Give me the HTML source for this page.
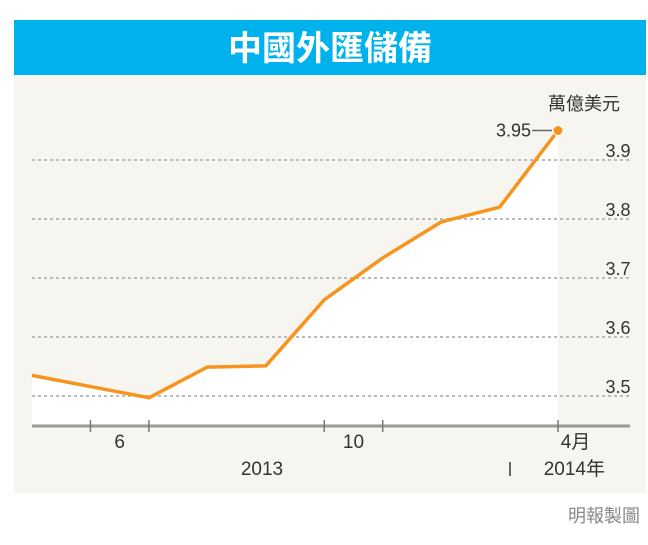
<!DOCTYPE html>
<html><head><meta charset="utf-8"><style>
body{margin:0;background:#fff;width:648px;height:540px;overflow:hidden;font-family:"Liberation Sans","Noto Sans CJK TC",sans-serif}
</style></head><body>
<svg width="648" height="540" xmlns="http://www.w3.org/2000/svg">
<rect x="14" y="20" width="632" height="55" fill="#00b2ec"/>
<text x="330" y="60" text-anchor="middle" font-size="34" font-weight="bold" fill="#fff" font-family="Noto Sans CJK TC, sans-serif">中國外匯儲備</text>
<rect x="14" y="75" width="632" height="418" fill="#f7f5f0"/>
<g id="plot"></g>
<text x="620" y="110" text-anchor="end" font-size="18" fill="#333" font-family="Noto Sans CJK TC, sans-serif">萬億美元</text>
<text x="262" y="475" text-anchor="middle" font-size="19" fill="#333">2013</text>
<text x="605" y="475" text-anchor="end" font-size="19" fill="#333">2014年</text>
<line x1="510" y1="462" x2="510" y2="476" stroke="#666" stroke-width="2"/>
<text x="640" y="522" text-anchor="end" font-size="18" fill="#888" font-family="Noto Sans CJK TC, sans-serif">明報製圖</text>
</svg>
<script>
const months=[0,2,3,4,5,6,7,8,9];
const values=[3.535,3.497,3.549,3.551,3.663,3.734,3.795,3.82,3.95];
const yTicks=[3.5,3.6,3.7,3.8,3.9];
const xTickMonths=[1,2,5,6,9];
const xLabels=["6","10","4月"];
const xLabelPos=[1.5,5.5,9.3];
const X=m=>32+m*58.45;
const Y=v=>160+(3.9-v)*590;
const NS="http://www.w3.org/2000/svg";
const g=document.getElementById('plot');
function mk(t,a){const e=document.createElementNS(NS,t);for(const k in a)e.setAttribute(k,a[k]);g.appendChild(e);return e;}
const axisY=426;
let pts=months.map((m,i)=>X(m)+','+Y(values[i])).join(' ');
let fill=mk('polygon',{points:X(months[0])+','+axisY+' '+pts+' '+X(months[months.length-1])+','+axisY,fill:'#fff'});


yTicks.forEach(v=>{
 const l=mk('line',{x1:32,x2:630,y1:Y(v),y2:Y(v),stroke:'#bbb','stroke-width':2,'stroke-dasharray':'3,3'});
 
 
 const t=mk('text',{x:618,y:Y(v)-3,'text-anchor':'middle','font-size':18,fill:'#333'});
 t.textContent=v.toFixed(1);
 
 
});
const ax=mk('line',{x1:32,x2:630,y1:axisY,y2:axisY,stroke:'#999','stroke-width':3});


xTickMonths.forEach(m=>{
 const l=mk('line',{x1:X(m),x2:X(m),y1:axisY-6,y2:axisY+6,stroke:'#777','stroke-width':1.5});
 
 
});
xLabels.forEach((s,i)=>{
 const t=mk('text',{x:X(xLabelPos[i]),y:448,'text-anchor':'middle','font-size':19,fill:'#333'});
 t.textContent=s;
 
 
});
const line=mk('polyline',{points:pts,fill:'none',stroke:'#f7941d','stroke-width':3.5,'stroke-linejoin':'round'});


const last=values.length-1;
const lx=X(months[last]),ly=Y(values[last]);
const c=mk('circle',{cx:lx,cy:ly,r:5,fill:'#f7941d',stroke:'#fff','stroke-width':1});


const ll=mk('line',{x1:lx-26,x2:lx-6,y1:ly,y2:ly,stroke:'#666','stroke-width':1.5});


const lt=mk('text',{x:lx-27,y:ly+6,'text-anchor':'end','font-size':18,fill:'#333'});
lt.textContent=values[last].toFixed(2);


</script>
</body></html>
